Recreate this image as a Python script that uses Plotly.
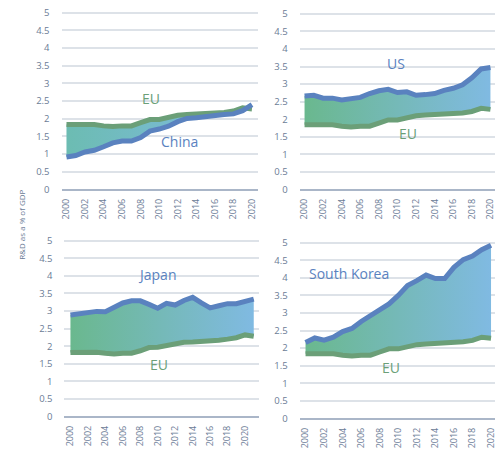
import plotly.graph_objects as go

# ---------------- data ----------------
years = list(range(2000, 2021))
years_japan = list(range(2000, 2022))
eu = [1.84, 1.85, 1.85, 1.84, 1.80, 1.78, 1.80, 1.80, 1.89, 1.98, 1.98,
      2.04, 2.10, 2.12, 2.13, 2.13, 2.15, 2.18, 2.22, 2.31, 2.28]
eu_japan = [1.82, 1.83, 1.83, 1.83, 1.80, 1.78, 1.80, 1.80, 1.87, 1.96, 1.97,
            2.02, 2.08, 2.11, 2.12, 2.13, 2.13, 2.17, 2.20, 2.24, 2.32, 2.28]
china = [0.92, 0.96, 1.06, 1.11, 1.21, 1.32, 1.37, 1.37, 1.47, 1.65, 1.71,
         1.79, 1.92, 2.01, 2.03, 2.07, 2.10, 2.12, 2.14, 2.23, 2.40]
us = [2.66, 2.68, 2.60, 2.60, 2.55, 2.57, 2.62, 2.73, 2.81, 2.85, 2.76,
      2.78, 2.68, 2.70, 2.73, 2.82, 2.88, 2.98, 3.18, 3.43, 3.47]
japan = [2.89, 2.93, 2.97, 2.99, 2.98, 3.12, 3.23, 3.29, 3.29, 3.19, 3.08,
         3.22, 3.17, 3.30, 3.39, 3.23, 3.09, 3.15, 3.21, 3.21, 3.28, 3.34]
korea = [2.16, 2.29, 2.23, 2.31, 2.47, 2.56, 2.76, 2.92, 3.08, 3.26, 3.50,
         3.78, 3.92, 4.08, 3.98, 3.98, 4.30, 4.52, 4.62, 4.80, 4.93]
y_ticks = [0, 0.5, 1, 1.5, 2, 2.5, 3, 3.5, 4, 4.5, 5]
y_tick_labels = ["0", "0.5", "1", "1.5", "2", "2.5", "3", "3.5", "4", "4.5", "5"]
x_ticks = list(range(2000, 2021, 2))
x_tick_labels = [str(y) for y in x_ticks]

W, H = 497, 455
BLUE = "#5a82bf"
GREEN = "#6b9f78"
TXT = "#6b7c96"
GRID = "#dde2e8"
AXIS = "#aab6c8"
FONT = "Open Sans"

# panel geometry in pixels: (left, right, x_2000, px_per_year, y_zero, y_five)
panels = [
    dict(name="China", x=years, eu=eu, other=china, geo=(60, 258, 65, 9.35, 192, 13),
         c0="rgb(108,188,178)", c1="rgb(128,186,226)"),
    dict(name="US", x=years, eu=eu, other=us, geo=(300, 497, 305, 9.37, 192, 14),
         c0="rgb(106,184,142)", c1="rgb(128,186,226)"),
    dict(name="Japan", x=years_japan, eu=eu_japan, other=japan, geo=(63, 259, 69, 8.8, 422, 244),
         c0="rgb(106,184,142)", c1="rgb(128,186,226)"),
    dict(name="South Korea", x=years, eu=eu, other=korea, geo=(300, 497, 306, 9.35, 424, 246),
         c0="rgb(106,184,142)", c1="rgb(128,186,226)"),
]

fig = go.Figure()
layout = dict(width=W, height=H, margin=dict(l=0, r=0, t=0, b=0),
              paper_bgcolor="white", plot_bgcolor="white", showlegend=False,
              font=dict(family=FONT, color=TXT))

for i, p in enumerate(panels, start=1):
    xl, xr, x0, ppy, y0, y5 = p["geo"]
    ppu = (y0 - y5) / 5.0
    ytop = y5 - 7
    xs = "" if i == 1 else str(i)
    layout["xaxis" + xs] = dict(
        domain=[xl / W, xr / W],
        range=[2000 - (x0 - xl) / ppy, 2000 + (xr - x0) / ppy],
        anchor="y" + xs, showgrid=False, zeroline=False,
        showline=True, linecolor=AXIS, linewidth=1.5,
        tickmode="array", tickvals=x_ticks, ticktext=x_tick_labels,
        tickangle=-90, ticks="", ticklabelstandoff=4, ticklabeloverflow="allow",
        tickfont=dict(size=9, color=TXT, family=FONT), fixedrange=True)
    layout["yaxis" + xs] = dict(
        domain=[1 - y0 / H, 1 - ytop / H],
        range=[0, 5 + (y5 - ytop) / ppu],
        anchor="x" + xs, showgrid=True, gridcolor=GRID, gridwidth=1.5,
        zeroline=False, showline=False,
        tickmode="array", tickvals=y_ticks, ticktext=y_tick_labels,
        ticks="", ticklabelstandoff=11,
        tickfont=dict(size=9.5, color=TXT, family=FONT), fixedrange=True)

    fig.add_trace(go.Scatter(x=p["x"], y=p["eu"], mode="lines",
                             line=dict(color=GREEN, width=5),
                             xaxis="x" + xs, yaxis="y" + xs, hoverinfo="skip"))
    fig.add_trace(go.Scatter(x=p["x"], y=p["other"], mode="lines",
                             line=dict(color=BLUE, width=5),
                             fill="tonexty",
                             fillgradient=dict(type="horizontal",
                                               colorscale=[[0, p["c0"]], [1, p["c1"]]]),
                             xaxis="x" + xs, yaxis="y" + xs, hoverinfo="skip"))

fig.update_layout(**layout)

labels = [
    ("EU", 150, 100, GREEN), ("China", 179, 143, BLUE),
    ("US", 397, 64, BLUE), ("EU", 409, 135, GREEN),
    ("Japan", 156, 278, BLUE), ("EU", 158, 369, GREEN),
    ("South Korea", 350, 277, BLUE), ("EU", 392, 372, GREEN),
]
for text, px, py, col in labels:
    fig.add_annotation(x=px / W, y=1 - py / H, xref="paper", yref="paper",
                       text=text, showarrow=False, xanchor="center", yanchor="middle",
                       font=dict(size=14, color=col, family=FONT))

fig.add_annotation(x=20 / W, y=1 - 228 / H, xref="paper", yref="paper",
                   text="R&D as a % of GDP", textangle=-90, showarrow=False,
                   xanchor="center", yanchor="middle",
                   font=dict(size=8, color=TXT, family=FONT))

fig.write_html("out.html", config={"displayModeBar": False},
               post_script="document.body.style.margin='0';")
